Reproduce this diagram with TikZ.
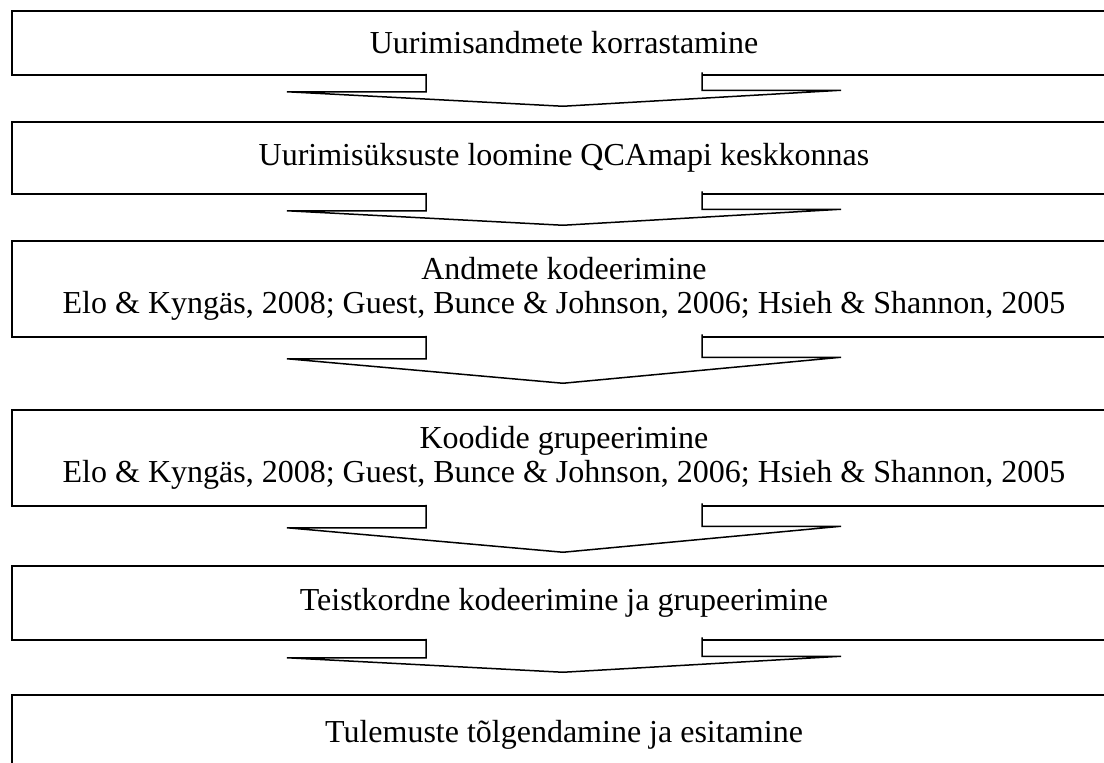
\documentclass[tikz,border=0pt]{standalone}
\usepackage{fontspec}
\setmainfont{Liberation Serif}
\usetikzlibrary{calc}

\begin{document}
\begin{tikzpicture}[
  x=1pt, y=-1pt,
  stage/.style={rectangle, draw, line width=1.5pt, minimum width=1104pt, inner sep=0pt, align=center, font=\fontsize{32}{34}\selectfont},
  blockarrow/.style={draw, fill=white, line width=1.5pt, line join=miter}
]

\useasboundingbox (0,0) rectangle (1104,763);
\fill[white] (0,0) rectangle (1104,763);
\clip (0,0) rectangle (1104,763);

% ------------------------------------------------------------
% Stages
% ------------------------------------------------------------

\node[stage, minimum height=64pt] (korr) at (564,43) {Uurimisandmete korrastamine};
\node[stage, minimum height=72pt] (qca) at (564,158) {Uurimisüksuste loomine QCAmapi keskkonnas};
\node[stage, minimum height=96pt] (kod) at (564,289) {Andmete kodeerimine\\Elo \& Kyngäs, 2008; Guest, Bunce \& Johnson, 2006; Hsieh \& Shannon, 2005};
\node[stage, minimum height=96pt] (grup) at (564,458) {Koodide grupeerimine\\Elo \& Kyngäs, 2008; Guest, Bunce \& Johnson, 2006; Hsieh \& Shannon, 2005};
\node[stage, minimum height=74pt] (teist) at (564,603) {Teistkordne kodeerimine ja grupeerimine};
\node[stage, minimum height=80pt] (tul) at (564,735) {Tulemuste tõlgendamine ja esitamine};

% ------------------------------------------------------------
% Block arrows
% ------------------------------------------------------------

\draw[blockarrow] ($(korr.south)+(-138,-2)$) -- ++(0,18) -- ++(-139,0) -- ($(qca.north)+(-1,-15)$) -- ++(278,-16) -- ++(-139,0) -- ++(0,-18);
\draw[blockarrow] ($(qca.south)+(-138,-2)$) -- ++(0,18) -- ++(-139,0) -- ($(kod.north)+(-1,-15)$) -- ++(278,-16) -- ++(-139,0) -- ++(0,-18);
\draw[blockarrow] ($(kod.south)+(-138,-2)$) -- ++(0,23) -- ++(-139,0) -- ($(grup.north)+(-1,-26)$) -- ++(278,-26) -- ++(-139,0) -- ++(0,-23);
\draw[blockarrow] ($(grup.south)+(-138,-2)$) -- ++(0,23) -- ++(-139,0) -- ($(teist.north)+(-1,-13)$) -- ++(278,-26) -- ++(-139,0) -- ++(0,-23);
\draw[blockarrow] ($(teist.south)+(-138,-2)$) -- ++(0,19) -- ++(-139,0) -- ($(tul.north)+(-1,-22)$) -- ++(278,-16) -- ++(-139,0) -- ++(0,-19);

\end{tikzpicture}
\end{document}
